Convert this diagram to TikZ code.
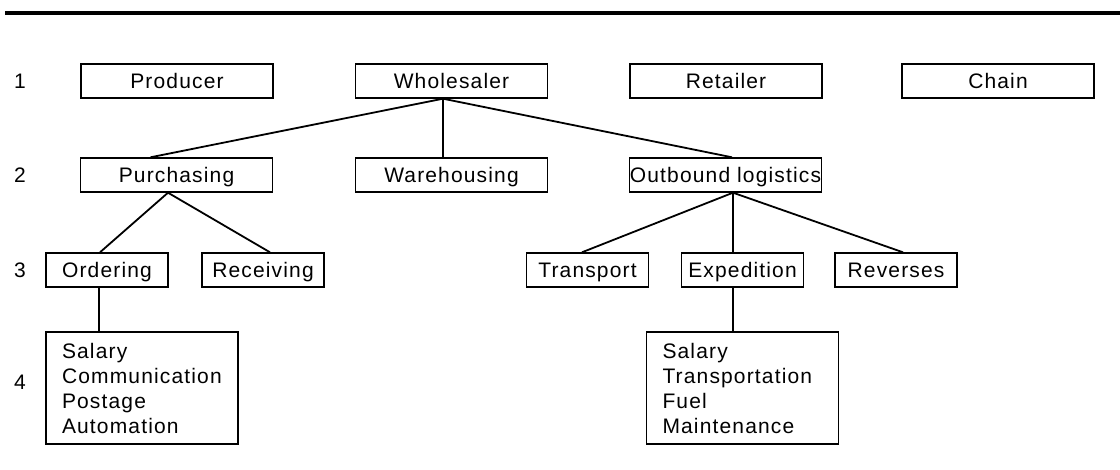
\documentclass[tikz,border=0pt]{standalone}
\usepackage{fontspec}
\setmainfont{Liberation Sans}[LetterSpace=5.5]
\begin{document}
\begin{tikzpicture}[x=1pt,y=-1pt,
  txt/.style={font=\fontsize{21}{25}\selectfont},
  box/.style={txt,draw,line width=1.4pt,minimum width=192pt,minimum height=34pt,inner sep=0pt,text height=17pt,text depth=2pt},
  sbox/.style={box,minimum width=122pt},
  list/.style={txt,draw,line width=1.4pt,minimum height=112pt,text width=160pt,inner xsep=16pt,inner ysep=0pt,align=left},
  link/.style={line width=1.8pt}]
\useasboundingbox (0,0) rectangle (1120,470);
\draw[line width=4.5pt] (5,13) -- (1120,13);
% level labels
\node[txt] (l1) at (20,81) {1};
\node[txt] (l2) at (20,175) {2};
\node[txt] (l3) at (20,270) {3};
\node[txt] (l4) at (20,382) {4};
% level 1
\node[box] (pro) at (177,81) {Producer};
\node[box] (who) at (451.5,81) {Wholesaler};
\node[box] (ret) at (726,81) {Retailer};
\node[box] (cha) at (998,81) {Chain};
% level 2
\node[box] (pur) at (176.5,175) {Purchasing};
\node[box] (war) at (451.5,175) {Warehousing};
\node[box] (out) at (725.5,175) {Outbound logistics};
% level 3
\node[sbox] (ord) at (107,270) {Ordering};
\node[sbox] (rec) at (263,270) {Receiving};
\node[sbox] (tra) at (587.5,270) {Transport};
\node[sbox] (exp) at (742.5,270) {Expedition};
\node[sbox] (rev) at (896,270) {Reverses};
% level 4
\node[list] (lst1) at (142,388) {Salary\\Communication\\Postage\\Automation};
\node[list] (lst2) at (742.5,388) {Salary\\Transportation\\Fuel\\Maintenance};
% connectors
\draw[link] ([xshift=-8.5pt]who.south) -- ([xshift=-26pt]pur.north);
\draw[link] ([xshift=-8.5pt]who.south) -- ([xshift=-8.5pt]war.north);
\draw[link] ([xshift=-8.5pt]who.south) -- ([xshift=6.5pt]out.north);
\draw[link] ([xshift=-8.5pt]pur.south) -- ([xshift=-7pt]ord.north);
\draw[link] ([xshift=-8.5pt]pur.south) -- ([xshift=7pt]rec.north);
\draw[link] ([xshift=7.5pt]out.south) -- ([xshift=-5.5pt]tra.north);
\draw[link] ([xshift=7.5pt]out.south) -- ([xshift=-9.5pt]exp.north);
\draw[link] ([xshift=7.5pt]out.south) -- ([xshift=7pt]rev.north);
\draw[link] ([xshift=-8pt]ord.south) -- ([xshift=-43pt]lst1.north);
\draw[link] ([xshift=-9.5pt]exp.south) -- ([xshift=-9.5pt]lst2.north);
\end{tikzpicture}
\end{document}
